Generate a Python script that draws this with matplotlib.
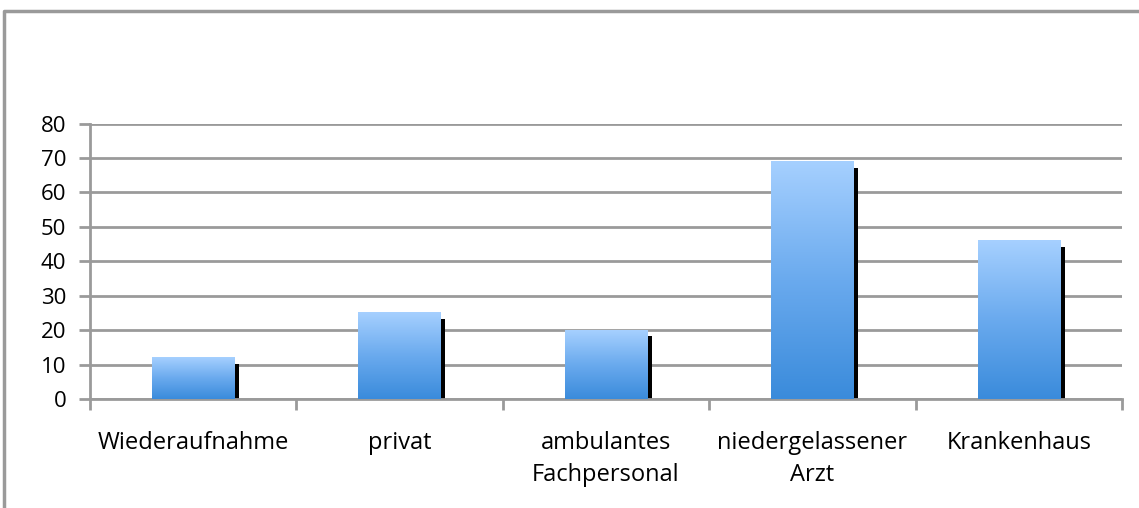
import numpy as np
import matplotlib.pyplot as plt
from matplotlib.colors import LinearSegmentedColormap
from matplotlib.lines import Line2D

categories = ["Wiederaufnahme", "privat", "ambulantes\nFachpersonal",
              "niedergelassener\nArzt", "Krankenhaus"]
values = [12, 25, 20, 69, 46]
y_ticks = [0, 10, 20, 30, 40, 50, 60, 70, 80]

plt.rcParams['font.family'] = ['Open Sans', 'DejaVu Sans']

fig = plt.figure(figsize=(11.39, 5.08), dpi=100)
ax = fig.add_axes([90 / 1139, 1 - 399 / 508, (1122 - 90) / 1139, (399 - 123.5) / 508])

grid_c = "#9a9a9a"
bar_w = 0.40
x = np.arange(len(categories))

cmap = LinearSegmentedColormap.from_list("bar", ["#3a8bdb", "#6aaaee", "#a6d0ff"])
grad = np.linspace(0, 1, 256).reshape(-1, 1)

for xi, v in zip(x, values):
    # dark shadow strip on the right side of each bar
    ax.add_patch(plt.Rectangle((xi + bar_w / 2, 0), 0.022, v - 1.8,
                               facecolor="black", edgecolor="none", zorder=2))
    # bar body with vertical gradient
    ax.imshow(grad, cmap=cmap, origin="lower", aspect="auto",
              extent=(xi - bar_w / 2, xi + bar_w / 2, 0, v), zorder=3,
              interpolation="bicubic")

ax.set_xlim(-0.5, len(categories) - 0.5)
ax.set_ylim(0, 80)
ax.set_yticks(y_ticks)
ax.set_xticks(x)
ax.set_xticklabels(categories, fontsize=17, linespacing=1.45)
ax.set_xticks(np.arange(-0.5, len(categories)), minor=True)
ax.tick_params(axis="x", which="major", length=0, pad=23)
ax.tick_params(axis="x", which="minor", length=8, width=2, color=grid_c)
ax.tick_params(axis="y", length=8, width=2, color=grid_c, labelsize=16, pad=9)

ax.yaxis.grid(True, color=grid_c, linewidth=2, zorder=1)
ax.set_axisbelow(True)
for s in ["top", "right"]:
    ax.spines[s].set_visible(False)
for s in ["left", "bottom"]:
    ax.spines[s].set_color(grid_c)
    ax.spines[s].set_linewidth(2)

# outer chart frame
fig.add_artist(Line2D([4 / 1139, 4 / 1139, 1.0], [0.0, 1 - 11 / 508, 1 - 11 / 508],
                      transform=fig.transFigure, color="#9a9a9a", linewidth=2.5))

fig.savefig("out.png", dpi=100)
